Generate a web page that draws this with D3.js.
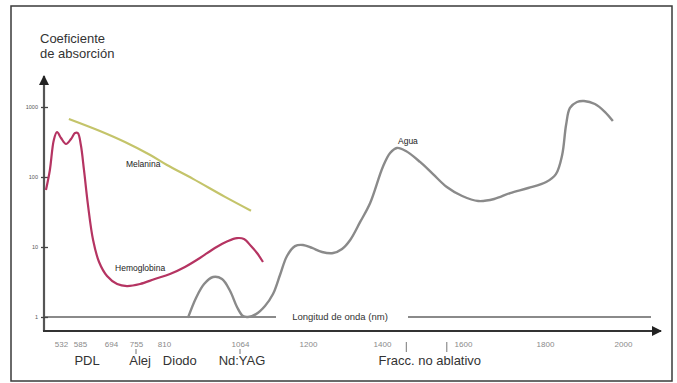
<!DOCTYPE html>
<html>
<head>
<meta charset="utf-8">
<script src="https://cdn.jsdelivr.net/npm/d3@7"></script>
<style>
  body { margin: 0; background: #fff; }
  text { font-family: "Liberation Sans", Arial, sans-serif; }
</style>
</head>
<body>
<svg id="chart" width="677" height="383"></svg>
<script>
// Wavelength ticks (nm) shown on the schematic x axis
const tickNm = [532, 585, 694, 755, 810, 1064, 1200, 1400, 1600, 1800, 2000];
const yTicks = [1, 10, 100, 1000];

// Absorption curves: [wavelength nm, coefficient]
const hemoglobina = [
    [490, 65], [501, 126], [512, 338], [521, 439], [532, 361], [546, 296],
    [560, 349], [571, 425], [579, 425], [588, 286], [599, 126], [613, 40],
    [631, 12.6], [652, 6.1], [680, 3.85], [709, 2.96], [733, 2.77], [763, 2.96],
    [792, 3.49], [830, 4.11], [880, 5.18], [930, 6.96], [980, 9.68], [1024, 12.2],
    [1054, 13.4], [1072, 13.0], [1086, 10.3], [1098, 8.2], [1110, 6.1]
];
const melanina = [
    [554, 674], [655, 454], [728, 316], [783, 206], [820, 148], [907, 94],
    [1014, 52], [1086, 33]
];
const agua = [
    [890, 0.97], [917, 1.87], [944, 2.96], [974, 3.73], [1004, 3.49], [1031, 2.35],
    [1054, 1.39], [1070, 1.03], [1080, 1.0], [1096, 1.1], [1114, 1.44], [1130, 2.13],
    [1144, 3.98], [1158, 7.44], [1174, 10.3], [1190, 10.7], [1211, 9.68], [1238, 8.48],
    [1268, 8.2], [1292, 9.36], [1314, 12.6], [1341, 22.8], [1368, 42.5], [1402, 139],
    [1420, 220], [1437, 260], [1459, 235], [1494, 164], [1526, 110], [1560, 72],
    [1598, 53.5], [1637, 45.4], [1676, 48.5], [1715, 59], [1759, 69.6], [1803, 84.8],
    [1828, 110], [1844, 206], [1854, 553], [1864, 968], [1882, 1179], [1900, 1218],
    [1928, 1104], [1954, 848], [1974, 631]
];

// Curve names, anchored in data space
const curveLabels = [
    { text: "Melanina", nm: 769, val: 153 },
    { text: "Hemoglobina", nm: 763, val: 5.0 },
    { text: "Agua", nm: 1464, val: 326 }
];

// Laser groups under the axis
const lasers = [
    { name: "PDL", nm: 610 },
    { name: "Alej", nm: 763 },
    { name: "Diodo", nm: 863 },
    { name: "Nd:YAG", nm: 1068 },
    { name: "Fracc. no ablativo", nm: 1518 }
];
const laserMarks = [755, 1064];
const fraccMarks = [1460, 1560];

const svg = d3.select("#chart");

// frame
svg.append("rect")
    .attr("x", 11).attr("y", 6)
    .attr("width", 661).attr("height", 375)
    .attr("fill", "none")
    .attr("stroke", "#3a3a3a")
    .attr("stroke-width", 1.5);

// The x axis of the original is schematic, so use a piecewise scale
let x = d3.scaleLinear()
    .domain(tickNm)
    .range([61, 80, 111, 136, 164, 240, 308, 382, 463, 545, 623]);

let y = d3.scaleLog()
    .domain([1, 1000])
    .range([317, 107]);

let axisX0 = 44, axisY0 = 331;

// arrow markers
let defs = svg.append("defs");
defs.append("marker")
    .attr("id", "arrow")
    .attr("viewBox", "0 0 10 10")
    .attr("refX", 9).attr("refY", 5)
    .attr("markerUnits", "userSpaceOnUse")
    .attr("markerWidth", 11).attr("markerHeight", 10)
    .attr("orient", "auto")
    .append("path")
    .attr("d", "M0,0L10,5L0,10Z")
    .attr("fill", "#222");

// reference line at 1 with its caption
let refY = y(1);
svg.append("line")
    .attr("x1", axisX0).attr("x2", 276)
    .attr("y1", refY).attr("y2", refY)
    .attr("stroke", "#8a8a8a").attr("stroke-width", 1.8);
svg.append("line")
    .attr("x1", 408).attr("x2", 651)
    .attr("y1", refY).attr("y2", refY)
    .attr("stroke", "#8a8a8a").attr("stroke-width", 1.8);
svg.append("text")
    .attr("x", 340).attr("y", refY)
    .attr("dy", "0.35em")
    .attr("text-anchor", "middle")
    .attr("font-size", 9.5)
    .attr("fill", "#333")
    .text("Longitud de onda (nm)");

// axes lines
svg.append("line")
    .attr("x1", axisX0).attr("y1", axisY0)
    .attr("x2", axisX0).attr("y2", 76)
    .attr("stroke", "#555").attr("stroke-width", 2.2)
    .attr("marker-end", "url(#arrow)");
svg.append("line")
    .attr("x1", axisX0 - 1).attr("y1", axisY0)
    .attr("x2", 661).attr("y2", axisY0)
    .attr("stroke", "#333").attr("stroke-width", 2)
    .attr("marker-end", "url(#arrow)");

// y ticks
let yAxis = svg.append("g")
    .attr("transform", `translate(${axisX0 + 4},0)`)
    .call(d3.axisLeft(y).tickValues(yTicks).tickSize(7).tickPadding(3).tickFormat(d3.format("d")));
yAxis.select(".domain").remove();
yAxis.selectAll("line").attr("stroke", "#444").attr("stroke-width", 1.3);
yAxis.selectAll("text")
    .attr("font-size", 5.5)
    .attr("fill", "#555")
    .style("font-family", "'Liberation Sans', Arial, sans-serif");

// x ticks
let xAxis = svg.append("g")
    .attr("transform", `translate(0,${axisY0})`)
    .call(d3.axisBottom(x).tickValues(tickNm).tickSize(0).tickPadding(10).tickFormat(d3.format("d")));
xAxis.select(".domain").remove();
xAxis.selectAll("text")
    .attr("font-size", 8)
    .attr("fill", "#8a8a8a")
    .style("font-family", "'Liberation Sans', Arial, sans-serif");

// small marks
svg.append("g").selectAll("line")
    .data(laserMarks)
    .enter()
    .append("line")
    .attr("x1", d => x(d)).attr("x2", d => x(d))
    .attr("y1", 349).attr("y2", 354)
    .attr("stroke", "#777").attr("stroke-width", 1);
svg.append("g").selectAll("line")
    .data(fraccMarks)
    .enter()
    .append("line")
    .attr("x1", d => x(d)).attr("x2", d => x(d))
    .attr("y1", 342).attr("y2", 352)
    .attr("stroke", "#777").attr("stroke-width", 1);

// laser names
svg.append("g").selectAll("text")
    .data(lasers)
    .enter()
    .append("text")
    .attr("x", d => x(d.nm))
    .attr("y", 365)
    .attr("text-anchor", "middle")
    .attr("font-size", 13)
    .attr("fill", "#333")
    .text(d => d.name);

// axis title
let title = svg.append("text")
    .attr("font-size", 13)
    .attr("fill", "#333");
title.append("tspan").attr("x", 40).attr("y", 43).text("Coeficiente");
title.append("tspan").attr("x", 40).attr("y", 58).text("de absorción");

// curves
let line = d3.line()
    .x(d => x(d[0]))
    .y(d => y(d[1]))
    .curve(d3.curveCatmullRom.alpha(0.5));

svg.append("path")
    .datum(melanina)
    .attr("d", line)
    .attr("fill", "none")
    .attr("stroke", "#c4c46a")
    .attr("stroke-width", 2.2);

svg.append("path")
    .datum(hemoglobina)
    .attr("d", line)
    .attr("fill", "none")
    .attr("stroke", "#b53462")
    .attr("stroke-width", 2.2);

svg.append("path")
    .datum(agua)
    .attr("d", line)
    .attr("fill", "none")
    .attr("stroke", "#8a8a8a")
    .attr("stroke-width", 2.4);

// curve names
svg.append("g").selectAll("text")
    .data(curveLabels)
    .enter()
    .append("text")
    .attr("x", d => x(d.nm))
    .attr("y", d => y(d.val))
    .attr("dy", "0.35em")
    .attr("text-anchor", "middle")
    .attr("font-size", 8.5)
    .attr("fill", "#222")
    .text(d => d.text);
</script>
</body>
</html>
